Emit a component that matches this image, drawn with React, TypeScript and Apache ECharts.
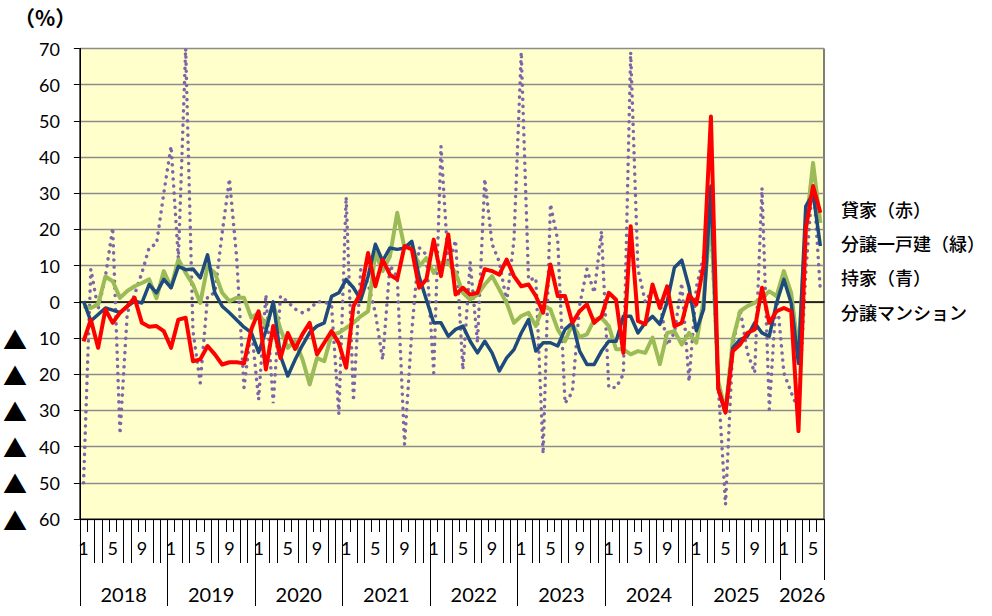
import React, { useEffect, useRef } from "react";
import * as echarts from "echarts";

// ---- data ----
const years = [2018, 2019, 2020, 2021, 2022, 2023, 2024, 2025, 2026];
const lastYearMonths = 6;
const labelMonths = [1, 5, 9];
const seriesNames = ["貸家（赤）", "分譲一戸建（緑）", "持家（青）", "分譲マンション"];

// 貸家（赤）
const rentalValues = [
  -10.9, -4.9, -12.7, -2.1, -5.8, -3, -1.2, 1.1, -5.8, -6.9, -6.7, -8.1,
  -12.7, -4.9, -4.4, -16.4, -15.9, -12.2, -14.5, -17.3, -16.7, -16.7, -17, -7.6,
  -2.6, -18.7, -6.7, -15.5, -8.6, -13, -9, -5.8, -14.5, -11.3, -8.1, -11.4,
  -18.2, -1.2, 2.5, 13.5, 4.3, 11.7, 7.5, 6.2, 15.4, 14.5, 3.9, 6.2,
  17.2, 7.1, 18.6, 2, 3.9, 2, 2.5, 9, 8.5, 7.5, 11.7, 7.1,
  4.3, 4.8, 1.6, -3, 10.3, 1.6, 1.6, -5.8, -2.6, -0.7, -5.8, -4,
  2.5, 0.6, -14.1, 20.9, -5.3, -6.2, 4.8, -1.7, 4.3, -6.7, -5.8, 2,
  -0.7, 10, 51.2, -24, -30.6, -13.6, -11.8, -8.6, -7.6, 3.9, -5.8, -2.6,
  -1.7, -2.6, -35.7, 20, 32, 24.6,
];

// 分譲一戸建（緑）
const detachedValues = [
  -1.2, -1.7, -0.7, 7, 5.7, 1.1, 3, 4.3, 5.2, 6.2, 1, 8.5,
  4, 11.7, 8, 4.8, -0.3, 9.8, 8, 2.5, 0.2, 1.1, 1.1, -4.4,
  -3, -6.7, -0.7, -7.6, -12.7, -10.8, -15.8, -22.8, -15.5, -16.4, -9, -8.6,
  -7.2, -5.8, -4, -2.6, 13.5, 8.5, 12.6, 24.6, 14.9, 15.8, 9.8, 12.1,
  8, 10.8, 10.8, 8, 2.5, 0.6, 2, 4.8, 7.1, 3.4, -0.3, -5.8,
  -3.9, -3, -6.7, -1.2, -2.1, -7.6, -10.9, -6.2, -9.7, -9, -4.9, -4.4,
  -6.7, -13.1, -13.1, -14.5, -13.6, -14.1, -9.9, -17.2, -8.6, -8.1, -11.8, -8.6,
  -11.3, 0.5, 24.6, -22, -30.2, -10.4, -2.6, -1.2, -0.3, 1.1, 2.9, 1.6,
  8.5, 2.5, -14, 20, 38.4, 21.8,
];

// 持家（青）
const ownerValues = [
  0.2, -5.3, -3.5, -1.7, -2.3, -3, -1.2, 0.2, -0.3, 4.8, 2.5, 6.2,
  3.9, 9.8, 8.9, 9.1, 6.6, 13, 2.5, -1.2, -3, -5, -7, -8.5,
  -14, -8, 0, -15, -20.5, -16, -12, -8.5, -6.7, -5.8, 1.5, 2.5,
  6.2, 3.9, 0.6, 7, 15.9, 11.3, 14.9, 14.5, 14.9, 16.7, 7, 0.6,
  -5.8, -5.8, -9.5, -7.6, -6.7, -10.9, -14.1, -10.9, -14.1, -19.1, -15.5, -13.2,
  -8.6, -4.9, -13.6, -11.3, -11.3, -12.2, -7.6, -5.8, -13.6, -17.3, -17.3, -13.6,
  -10.9, -10.9, -4, -4, -8.6, -5.8, -4, -6.2, 0, 9.5, 11.5, 4,
  -8, -2, 32, -24, -30.6, -12.7, -10.4, -9.5, -5.8, -8.6, -9.5, -0.3,
  6.2, -0.3, -17, 26.4, 30, 15.4,
];

// 分譲マンション
const condoValues = [
  -50, 9, -2, 7, 20.5, -36.5, -3, 2, 8, 15, 16, 30,
  43, 12, 70, -8, -22.4, 1.5, 2.5, 19, 34, 12, -23.7, -7,
  -27, 2, -28, 1.6, 0, -2, -3, -2, 0, 0, -1, -31,
  29, -27.4, 9, 5, -3, -16, 10, 7, -39.4, -8, 15, 13,
  -19.6, 43, 10, 17, -18.7, 11, -11.3, 34, 16, 11, 0, 17,
  69, 6, 6.6, -42, 27, 17, -28, -25, -1, 9, 2.5, 19.5,
  -23.7, -23.7, -20, 69, 9, 0, 3.4, 0, -12, -8.5, 5.2, -22,
  4, 12.6, 21, -23, -56, -12, -2, -14, -19.6, 31.5, -29.7, 2.5,
  -19.6, -25, -30, 8, 34.7, 3,
];

// ---- derived axis helpers ----
const categories: string[] = [];
years.forEach((y, k) => {
  const n = k === years.length - 1 ? lastYearMonths : 12;
  for (let m = 1; m <= n; m++) categories.push(`${y}/${m}`);
});
const N = categories.length;

const monthLabelPos: number[] = [];
const monthSepPos: number[] = [];
const yearSepPos: number[] = [];
const yearLabelPos: number[] = [];
years.forEach((_, k) => {
  const start = k * 12;
  const n = k === years.length - 1 ? lastYearMonths : 12;
  labelMonths.forEach((m) => {
    if (m <= n) monthLabelPos.push(start + m - 0.5);
  });
  [2, 3, 6, 7, 10, 11].forEach((o) => {
    if (o < n) monthSepPos.push(start + o);
  });
  if (k < years.length - 1) yearSepPos.push(start);
  yearLabelPos.push(start + n / 2);
});
const lastSepPos = [(years.length - 1) * 12, N];

const tri = "▲";

export default function App() {
  const ref = useRef<HTMLDivElement>(null);
  useEffect(() => {
    const chart = echarts.init(ref.current!, null, { renderer: "svg" });
    const baseX: any = {
      type: "value",
      min: 0,
      max: N,
      position: "bottom",
      splitLine: { show: false },
      axisLine: { show: false, onZero: false },
      axisLabel: { show: false },
      axisTick: { show: false },
    };
    const tickStyle = { color: "#000", width: 1 };
    const option: any = {
      animation: false,
      backgroundColor: "#fff",
      grid: {
        left: 78,
        right: 168,
        top: 48.5,
        bottom: 97,
        show: true,
        backgroundColor: "#FFFFCC",
        borderColor: "#000",
        borderWidth: 1,
      },
      xAxis: [
        {
          type: "category",
          data: categories,
          boundaryGap: true,
          axisLine: { onZero: true, lineStyle: { color: "#000", width: 1.5 } },
          axisTick: { interval: 0, length: 6, lineStyle: tickStyle },
          axisLabel: { show: false },
          splitLine: { show: false },
        },
        {
          ...baseX,
          interval: 1,
          axisLine: { show: true, onZero: false, lineStyle: { color: "#000", width: 1 } },
          axisTick: { show: true, length: 13, lineStyle: tickStyle },
          axisLabel: {
            show: true,
            customValues: monthLabelPos,
            formatter: (v: number) => String((Math.floor(v) % 12) + 1),
            margin: 20,
            fontSize: 18,
            fontFamily: "Lato",
            color: "#000",
          },
        },
        {
          ...baseX,
          axisTick: { show: true, customValues: monthSepPos, length: 44, lineStyle: tickStyle },
        },
        {
          ...baseX,
          axisTick: { show: true, customValues: yearSepPos, length: 87, lineStyle: tickStyle },
          axisLabel: {
            show: true,
            customValues: yearLabelPos,
            formatter: (v: number) => String(years[Math.floor(v / 12)]),
            margin: 65,
            fontSize: 20,
            fontFamily: "Lato",
            color: "#000",
          },
        },
        {
          ...baseX,
          axisTick: { show: true, customValues: lastSepPos, length: 61, lineStyle: tickStyle },
        },
      ],
      yAxis: {
        type: "value",
        min: -60,
        max: 70,
        interval: 10,
        axisLine: { show: true, onZero: false, lineStyle: { color: "#000", width: 1 } },
        axisTick: { show: true, length: 6, lineStyle: tickStyle },
        splitLine: { show: true, lineStyle: { color: "#8c8c8c", width: 1.3 } },
        axisLabel: {
          margin: 20,
          formatter: (v: number) => (v < 0 ? `{t|${tri}}{n|${-v}}` : `{n|${v}}`),
          rich: {
            t: {
              fontSize: 24,
              fontFamily: "Noto Sans CJK JP",
              color: "#000",
              width: 36,
              align: "left",
              lineHeight: 20,
              verticalAlign: "middle",
            },
            n: { fontSize: 18, fontFamily: "Lato", color: "#000", lineHeight: 20, verticalAlign: "middle" },
          },
        },
      },
      series: [
        {
          name: seriesNames[3],
          type: "line",
          data: condoValues,
          symbol: "none",
          z: 1,
          lineStyle: { color: "#7E64A8", width: 3.5, type: [0.1, 7], cap: "round" },
        },
        {
          name: seriesNames[1],
          type: "line",
          data: detachedValues,
          symbol: "none",
          z: 2,
          lineStyle: { color: "#9BBB59", width: 4, join: "round" },
        },
        {
          name: seriesNames[2],
          type: "line",
          data: ownerValues,
          symbol: "none",
          z: 3,
          lineStyle: { color: "#1F4A7D", width: 3.5, join: "round" },
        },
        {
          name: seriesNames[0],
          type: "line",
          data: rentalValues,
          symbol: "none",
          z: 4,
          lineStyle: { color: "#FF0000", width: 4, join: "round" },
        },
      ],
      graphic: [
        {
          type: "text",
          x: 14,
          y: 17,
          style: {
            text: "（%）",
            fontSize: 21,
            fontWeight: "bold",
            fontFamily: "Noto Sans CJK JP",
            fill: "#000",
            verticalAlign: "middle",
          },
        },
        ...seriesNames.map((name, k) => ({
          type: "text",
          x: 841,
          y: [209, 243, 277, 312][k],
          style: {
            text: name,
            fontSize: 18,
            fontFamily: "Noto Sans CJK JP",
            fontWeight: 500,
            fill: "#000",
            verticalAlign: "middle",
          },
        })),
      ],
    };
    chart.setOption(option);
    return () => chart.dispose();
  }, []);
  return (
    <div
      ref={ref}
      style={{ position: "absolute", left: 0, top: 0, width: 992, height: 616 }}
    />
  );
}
